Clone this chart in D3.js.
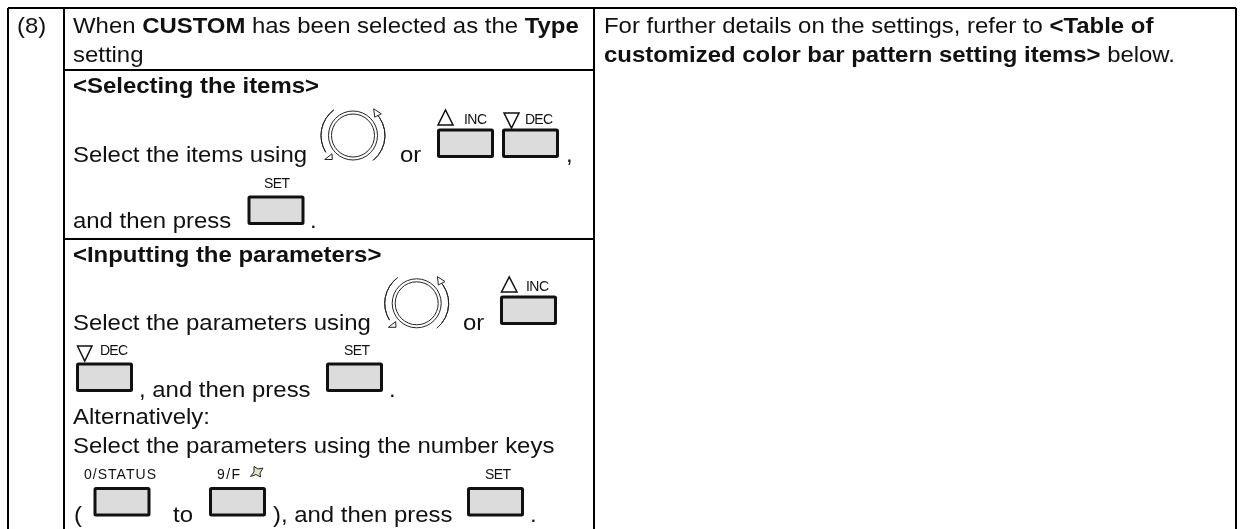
<!DOCTYPE html>
<html>
<head>
<meta charset="utf-8">
<script src="https://cdn.jsdelivr.net/npm/d3@7"></script>
<style>
  html, body { margin: 0; padding: 0; background: #fff; }
  text { font-family: "Liberation Sans", Arial, sans-serif; fill: #111; }
</style>
</head>
<body>
<div id="viz"></div>
<script>
const width = 1240, height = 529;

// text of the table, each line split in runs: [text, bold]
const rowNumber = "(8)";
const typeLine1 = [["When ", 0], ["CUSTOM", 1], [" has been selected as the ", 0], ["Type", 1]];
const typeLine2 = [["setting", 0]];
const noteLine1 = [["For further details on the settings, refer to ", 0], ["<Table of", 1]];
const noteLine2 = [["customized color bar pattern setting items>", 1], [" below.", 0]];
const headings = ["<Selecting the items>", "<Inputting the parameters>"];
const bodyTexts = [
  "Select the items using", "or", ",", "and then press", ".",
  "Select the parameters using", "or", ", and then press", ".",
  "Alternatively:", "Select the parameters using the number keys",
  "(", "to", "), and then press", "."
];
const keyLabels = ["INC", "DEC", "SET", "INC", "DEC", "SET", "0/STATUS", "9/F", "SET"];

const svg = d3.select("#viz").append("svg")
  .attr("width", width).attr("height", height)
  .style("display", "block")
  .style("filter", "blur(0.35px)");

/*
 * Table rules
 */
const rules = svg.append("g").attr("stroke", "#000").attr("stroke-width", 2);
const tLeft = 8, col1 = 64, col2 = 594, tRight = 1236, tTop = 8, row1 = 70, row2 = 239;
[[tLeft, tTop, tRight, tTop], [tLeft, tTop, tLeft, height], [col1, tTop, col1, height],
 [col2, tTop, col2, height], [tRight, tTop, tRight, height],
 [col1, row1, col2, row1], [col1, row2, col2, row2]].forEach(l => {
  rules.append("line").attr("x1", l[0]).attr("y1", l[1]).attr("x2", l[2]).attr("y2", l[3]);
});

/*
 * Text
 */
const fontSize = 22.8, stretchX = 1.05;

function runs(parts, x, y) {
  const t = svg.append("text")
    .attr("transform", `translate(${x},${y}) scale(${stretchX},1)`)
    .attr("font-size", fontSize)
    .style("white-space", "pre");
  t.selectAll("tspan").data(parts).enter().append("tspan")
    .attr("font-weight", d => d[1] ? "bold" : "normal")
    .text(d => d[0]);
}

runs([[rowNumber, 0]], 17, 33);
runs(typeLine1, 73, 33);
runs(typeLine2, 73, 62);
runs(noteLine1, 604, 33);
runs(noteLine2, 604, 62);
runs([[headings[0], 1]], 73, 93);
runs([[headings[1], 1]], 73, 262);

const bodyX = [73, 400, 566, 73, 310, 73, 463, 139, 389, 73, 73, 74, 173, 273, 530];
const bodyY = [162, 162, 162, 228, 228, 330, 330, 396.5, 396.5, 424, 453, 522, 522, 522, 522];
bodyTexts.forEach((s, i) => runs([[s, 0]], bodyX[i], bodyY[i]));

/*
 * Keys: grey box with a small label above
 */
const keyX = [437, 502, 247.5, 500, 76, 326, 93.5, 209, 467];
const keyY = [128.5, 128.5, 195.5, 295.5, 362.5, 362.5, 487, 487, 487];
const labelX = [464, 525, 264, 526, 100, 344, 84, 217, 485];
const labelY = [124, 124, 188, 291, 355, 355, 479, 479, 479];
const labelW = [23, 28, 26, 23, 28, 26, 72, 23, 26];

svg.append("g").selectAll("rect").data(keyLabels).enter().append("rect")
  .attr("x", (d, i) => keyX[i] + 1.5).attr("y", (d, i) => keyY[i] + 1.5)
  .attr("width", 54).attr("height", 26.5).attr("rx", 1)
  .attr("fill", "#dcdcdc").attr("stroke", "#111").attr("stroke-width", 3);

svg.append("g").selectAll("text").data(keyLabels).enter().append("text")
  .attr("x", (d, i) => labelX[i]).attr("y", (d, i) => labelY[i])
  .attr("font-size", 14)
  .attr("textLength", (d, i) => labelW[i]).attr("lengthAdjust", "spacing")
  .text(d => d);

/*
 * Triangles next to INC / DEC
 */
function triangle(x, y, w, h, up) {
  const p = up ? [[x, y + h], [x + w, y + h], [x + w / 2, y]]
               : [[x, y], [x + w, y], [x + w / 2, y + h]];
  svg.append("path").attr("d", d3.line()(p) + "Z")
    .attr("fill", "none").attr("stroke", "#111").attr("stroke-width", 1.5);
}
triangle(438, 110, 15, 15, true);
triangle(504, 113, 15, 15, false);
triangle(501.5, 277, 15.5, 15, true);
triangle(77.5, 346, 14.5, 15, false);

/*
 * Jog dial
 */
function dial(cx, cy) {
  const g = svg.append("g").attr("transform", `translate(${cx},${cy})`)
    .attr("fill", "none").attr("stroke", "#222");
  g.append("circle").attr("r", 24.5).attr("stroke-width", 1);
  g.append("circle").attr("r", 21.5).attr("stroke-width", 1);
  const arc = d3.arc().innerRadius(32).outerRadius(32);
  g.append("path").attr("d", arc({startAngle: 0.75, endAngle: 2.46})).attr("stroke-width", 1);
  g.append("path").attr("d", arc({startAngle: 4.16, endAngle: 5.64})).attr("stroke-width", 1);
  g.append("path").attr("d", "M20.7,-26.7 L28.3,-21.7 L21.7,-18.3 Z").attr("fill", "#fff").attr("stroke-width", 1);
  g.append("path").attr("d", "M-28.3,24 L-21,18.3 L-20.7,24 Z").attr("fill", "#fff").attr("stroke-width", 1);
}
dial(353, 135.5);
dial(416.7, 303.3);

// hand icon after 9/F
svg.append("path").attr("d", "M254,466.5 L258,469 L263,468 L260,473 L260.5,477 L256,474.5 L250.5,476.5 L254,472 Z")
  .attr("fill", "#e4e4c8").attr("stroke", "#222").attr("stroke-width", 1);
</script>
</body>
</html>
